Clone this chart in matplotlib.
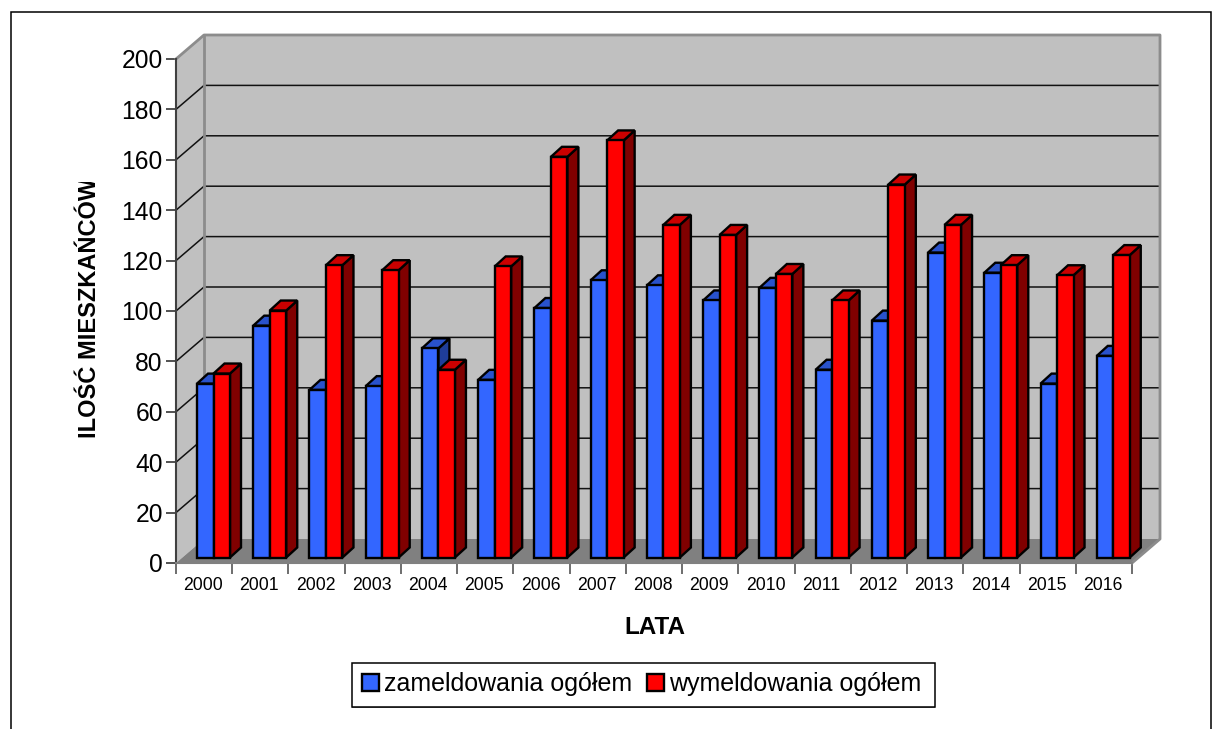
import matplotlib
matplotlib.use("Agg")
import matplotlib.pyplot as plt
from matplotlib.patches import Rectangle
from matplotlib.transforms import Bbox, ScaledTranslation

plt.rcParams['font.family'] = ['Liberation Sans', 'DejaVu Sans']

years = ['2000', '2001', '2002', '2003', '2004', '2005', '2006', '2007', '2008',
         '2009', '2010', '2011', '2012', '2013', '2014', '2015', '2016']
zameldowania = [69, 92, 66.5, 68, 83, 70.5, 99, 110, 108, 102, 107, 74.5, 94, 121, 113, 69, 80]
wymeldowania = [73, 98, 116, 114, 74.5, 115.5, 159, 165.5, 132, 128, 112.5, 102, 148, 132, 116, 112, 120]
yticks = list(range(0, 201, 20))

W, H = 1222, 729
fig = plt.figure(figsize=(W / 100, H / 100), dpi=100)
ax = fig.add_axes([176 / W, 1 - 563 / H, 956 / W, 504 / H])
ax.set_xlim(0, len(years))
ax.set_ylim(0, 200)
ax.patch.set_visible(False)

# size of one pixel in data units, the fake 3d depth is given in pixels
px = len(years) / 956
py = 200 / 504
wall_dx, wall_dy = 28 * px, 24 * py
bar_dx, bar_dy = 11 * px, 10 * py
n = len(years)


def face(xs, ys, color, edge='none', lw=0, z=1):
    ax.fill(xs, ys, facecolor=color, edgecolor=edge, linewidth=lw, zorder=z,
            clip_on=False, joinstyle='miter')


# walls and floor
face([wall_dx, n + wall_dx, n + wall_dx, wall_dx], [wall_dy, wall_dy, 200 + wall_dy, 200 + wall_dy], '#C0C0C0', z=1)
face([0, wall_dx, wall_dx, 0], [0, wall_dy, 200 + wall_dy, 200], '#C0C0C0', z=1)
face([0, n, n + wall_dx, wall_dx], [0, 0, wall_dy, wall_dy], '#808080', z=1)

for t in yticks[1:-1]:
    ax.plot([0, wall_dx, n + wall_dx], [t, t + wall_dy, t + wall_dy], color='#111111', lw=1.1, zorder=2, clip_on=False)

# wall outline
ax.plot([0, wall_dx, n + wall_dx, n + wall_dx, n], [200, 200 + wall_dy, 200 + wall_dy, wall_dy, 0],
        color='#8C8C8C', lw=2, zorder=2, clip_on=False)
ax.plot([wall_dx, wall_dx], [wall_dy, 200 + wall_dy], color='#8C8C8C', lw=2, zorder=2, clip_on=False)


def bar3d(x0, width, val, front, top, side, z):
    base = 5.5 * py
    x1 = x0 + width
    y1 = base + val
    face([x1, x1 + bar_dx, x1 + bar_dx, x1], [base, base + bar_dy, y1 + bar_dy, y1], side, 'black', 1.7, z)
    face([x0, x1, x1 + bar_dx, x0 + bar_dx], [y1, y1, y1 + bar_dy, y1 + bar_dy], top, 'black', 1.7, z)
    face([x0, x1, x1, x0], [base, base, y1, y1], front, 'black', 1.7, z)


bw = 16.5 * px
off = 21 * px
for i in range(n):
    bar3d(i + off, bw, zameldowania[i], '#3366FF', '#2952CC', '#1F3D99', 3 + i * 0.01)
    bar3d(i + off + bw, bw, wymeldowania[i], '#FF0000', '#CC0000', '#800000', 3 + i * 0.01 + 0.001)

# axes
for s in ['top', 'right']:
    ax.spines[s].set_visible(False)
ax.spines['left'].set_color('#404040')
ax.spines['left'].set_linewidth(1.5)
ax.spines['bottom'].set_color('#808080')
ax.spines['bottom'].set_linewidth(1.5)
ax.set_yticks(yticks)
ax.set_yticklabels([str(t) for t in yticks], fontsize=17.7)
ax.tick_params(axis='y', length=7, width=1.2, color='#333333', pad=2.5)
ax.set_xticks(range(n + 1))
ax.set_xticklabels([])
ax.tick_params(axis='x', which='major', length=8, width=1.2, color='#555555', direction='out')
ax.set_xticks([i + 0.5 for i in range(n)], minor=True)
ax.set_xticklabels(years, minor=True, fontsize=12.7)
ax.tick_params(axis='x', which='minor', length=0, pad=10)
for lab in ax.get_xticklabels(minor=True):
    lab.set_transform(lab.get_transform() + ScaledTranslation(-1 / 100, 0, fig.dpi_scale_trans))

fig.text(655 / W, 1 - 628 / H, 'LATA', fontsize=17.5, fontweight='bold', ha='center', va='center')
ylab = fig.text(89.5 / W, 1 - 307.5 / H, 'ILOŚĆ MIESZKAŃCÓW', fontsize=17, fontweight='bold',
                rotation=90, ha='center', va='center')
# the top of the title is cut off in the chart
ylab.set_clip_box(Bbox([[60, H - 440], [120, H - 182]]))
ylab.set_clip_on(True)

# outer frame, the bottom edge lies below the picture
fig.add_artist(Rectangle((11 / W, -0.02), 1200 / W, 1 - 12 / H + 0.02, transform=fig.transFigure,
                         facecolor='none', edgecolor='black', linewidth=1.1))

# legend box is drawn by hand, its padding is not even on the two sides
fig.add_artist(Rectangle((352 / W, 1 - 708 / H), 583 / W, 1 / H, transform=fig.transFigure,
                         facecolor='#808080', edgecolor='none'))
fig.add_artist(Rectangle((352 / W, 1 - 707 / H), 583 / W, 44 / H, transform=fig.transFigure,
                         facecolor='white', edgecolor='black', linewidth=1.1))
handles = [Rectangle((0, 0), 1, 1, facecolor='#3366FF', edgecolor='black', linewidth=1.7),
           Rectangle((0, 0), 1, 1, facecolor='#FF0000', edgecolor='black', linewidth=1.7)]
leg = fig.legend(handles, ['zameldowania ogółem', 'wymeldowania ogółem'], ncol=2,
                 loc='center left', bbox_to_anchor=(362 / W, 1 - 684 / H), fontsize=18,
                 frameon=False, handlelength=0.68, handleheight=0.68, handletextpad=0.2,
                 columnspacing=0.6, borderpad=0, borderaxespad=0)

fig.savefig('out.png', dpi=100, facecolor='white')
